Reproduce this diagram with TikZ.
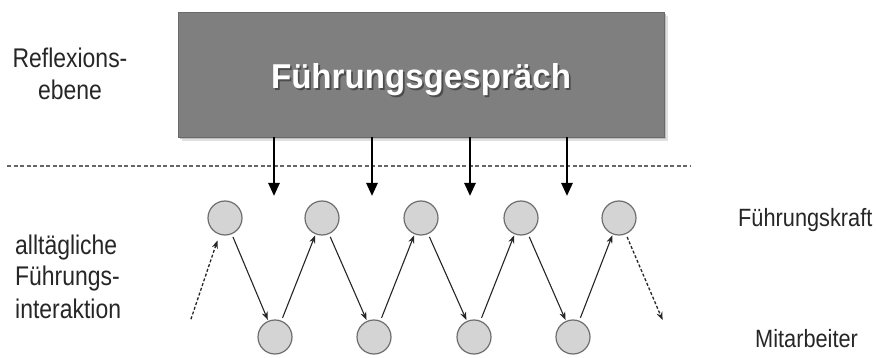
\documentclass[tikz,border=0pt]{standalone}
\usepackage{fontspec}
\setmainfont{Liberation Sans}
\newfontfamily\labelfont[FakeStretch=0.85]{Liberation Sans}
\newfontfamily\rolefont[FakeStretch=0.87]{Liberation Sans}
\newfontfamily\titlefont[FakeStretch=0.96]{Liberation Sans}
\usetikzlibrary{arrows.meta,calc}

\definecolor{boxfill}{HTML}{7F7F7F}
\definecolor{boxedge}{HTML}{6A6A6A}
\definecolor{discfill}{HTML}{D4D4D4}
\definecolor{discedge}{HTML}{6E6E6E}
\definecolor{ink}{HTML}{262626}

\tikzset{
  talkbox/.style={rectangle, draw=boxedge, line width=0.8pt, fill=boxfill,
    minimum width=486pt, minimum height=125pt, inner sep=0pt},
  titletext/.style={text=white, font=\titlefont\fontsize{34.5}{38}\selectfont\bfseries,
    inner sep=0pt, anchor=base},
  titleshade/.style={text=black!75, font=\titlefont\fontsize{34.5}{38}\selectfont\bfseries,
    inner sep=0pt, anchor=base, opacity=0.8},
  person/.style={circle, draw=discedge, line width=1.2pt, fill=discfill,
    minimum size=34pt, inner sep=0pt},
  label/.style={text=ink, font=\labelfont\fontsize{27}{32}\selectfont, inner sep=0pt},
  sidelabel/.style={text=ink, font=\rolefont\fontsize{25}{28}\selectfont, inner sep=0pt,
    anchor=base west},
  impulse/.style={line width=2.6pt, black,
    -{Triangle[length=13pt,width=11pt]}},
  flow/.style={line width=1.1pt, ink,
    -{Stealth[length=8pt,width=6pt]}, shorten <=3pt, shorten >=1pt},
  flowdash/.style={flow, dash pattern=on 3pt off 2pt, line width=1.3pt},
  separator/.style={line width=1.3pt, black!60, dash pattern=on 4pt off 2.5pt},
}

\begin{document}
\begin{tikzpicture}[x=1pt,y=-1pt]
\useasboundingbox (0,0) rectangle (876,358);

% reflection level: the leadership talk box with its soft shadow
\fill[black!12] (182,16) rectangle (668,141);
\fill[black!25] (180,14) rectangle (666,139);
\node[talkbox] (talk) at (421,74.5) {};
\node[titleshade] at ($(talk.center)+(1.8,16.3)$) {Führungsgespräch};
\node[titletext] (title) at ($(talk.center)+(0,14.5)$) {Führungsgespräch};

% boundary between the two levels
\coordinate (sepL) at (7,166);
\coordinate (sepR) at (690,166);
\draw[separator] (sepL) -- (sepR);

% impulses from the talk into daily interaction
\foreach \i/\x in {1/274,2/372,3/470,4/567}{
  \coordinate (imp\i) at (\x,196);
  \draw[impulse] (talk.south -| imp\i) -- (imp\i);
}

% leader (top row) and employee (bottom row)
\node[person] (t1) at (225,218) {};
\node[person] (t2) at (322,218) {};
\node[person] (t3) at (421,218) {};
\node[person] (t4) at (521,218) {};
\node[person] (t5) at (619,218) {};
\node[person] (b1) at (275,337) {};
\node[person] (b2) at (374,337) {};
\node[person] (b3) at (474,337) {};
\node[person] (b4) at (573,337) {};

% zig-zag of interaction
\coordinate (lead) at (190,322);
\coordinate (trail) at (663,321);
\draw[flowdash, shorten >=6pt] (lead) -- (t1);
\draw[flow] (t1) -- (b1);
\draw[flow] (b1) -- (t2);
\draw[flow] (t2) -- (b2);
\draw[flow] (b2) -- (t3);
\draw[flow] (t3) -- (b3);
\draw[flow] (b3) -- (t4);
\draw[flow] (t4) -- (b4);
\draw[flow] (b4) -- (t5);
\draw[flowdash, shorten <=3pt] (t5) -- (trail);

% level labels (anchored at the baseline of their last line)
\node[label, align=center, anchor=base] (refl) at (70,100)
  {Reflexions-\\ebene};
\node[label, align=left, anchor=base west] (daily) at (15,318)
  {alltägliche\\Führungs-\\interaktion};

% role labels
\node[sidelabel] (leader) at (738,227) {Führungskraft};
\node[sidelabel] (staff) at (755,347) {Mitarbeiter};
\end{tikzpicture}
\end{document}
